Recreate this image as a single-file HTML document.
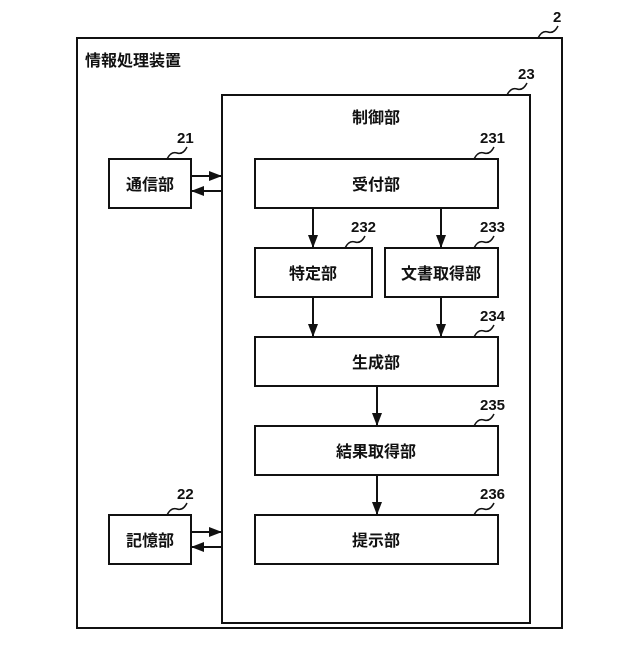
<!DOCTYPE html>
<html><head><meta charset="utf-8"><style>
body{margin:0;background:#fff}
svg text{font-family:"Liberation Sans","Noto Sans CJK JP",sans-serif;font-weight:bold;fill:#111}
</style></head><body>
<svg width="640" height="640" viewBox="0 0 640 640" xmlns="http://www.w3.org/2000/svg">
<defs><marker id="a" markerWidth="13" markerHeight="10" refX="12" refY="5" orient="auto" markerUnits="userSpaceOnUse"><path d="M0,0 L13,5 L0,10 Z" fill="#111"/></marker></defs>
<g fill="none" stroke="#111" stroke-width="2">
<rect x="77" y="38" width="485" height="590"/>
<rect x="222" y="95" width="308" height="528"/>
<rect x="109" y="159" width="82" height="49"/>
<rect x="109" y="515" width="82" height="49"/>
<rect x="255" y="159" width="243" height="49"/>
<rect x="255" y="248" width="117" height="49"/>
<rect x="385" y="248" width="113" height="49"/>
<rect x="255" y="337" width="243" height="49"/>
<rect x="255" y="426" width="243" height="49"/>
<rect x="255" y="515" width="243" height="49"/>
<g stroke-width="2" marker-end="url(#a)">
<line x1="191" y1="176" x2="221" y2="176"/>
<line x1="222" y1="191" x2="192" y2="191"/>
<line x1="191" y1="532" x2="221" y2="532"/>
<line x1="222" y1="547" x2="192" y2="547"/>
<line x1="313" y1="208" x2="313" y2="247"/>
<line x1="441" y1="208" x2="441" y2="247"/>
<line x1="313" y1="297" x2="313" y2="336"/>
<line x1="441" y1="297" x2="441" y2="336"/>
<line x1="377" y1="386" x2="377" y2="425"/>
<line x1="377" y1="475" x2="377" y2="514"/>
</g>
<g stroke-width="1.5">
<path d="M538,38 q4,-8 10,-6 t10,-6"/>
<path d="M507,95 q4,-8 10,-6 t10,-6"/>
<path d="M167,159 q4,-8 10,-6 t10,-6"/>
<path d="M167,515 q4,-8 10,-6 t10,-6"/>
<path d="M474,159 q4,-8 10,-6 t10,-6"/>
<path d="M345,248 q4,-8 10,-6 t10,-6"/>
<path d="M474,248 q4,-8 10,-6 t10,-6"/>
<path d="M474,337 q4,-8 10,-6 t10,-6"/>
<path d="M474,426 q4,-8 10,-6 t10,-6"/>
<path d="M474,515 q4,-8 10,-6 t10,-6"/>
</g>
</g>
<g font-size="16">
<text x="85" y="66">情報処理装置</text>
<text x="376" y="123" text-anchor="middle">制御部</text>
<text x="150" y="190" text-anchor="middle">通信部</text>
<text x="150" y="546" text-anchor="middle">記憶部</text>
<text x="376" y="190" text-anchor="middle">受付部</text>
<text x="313" y="279" text-anchor="middle">特定部</text>
<text x="441" y="279" text-anchor="middle">文書取得部</text>
<text x="376" y="368" text-anchor="middle">生成部</text>
<text x="376" y="457" text-anchor="middle">結果取得部</text>
<text x="376" y="546" text-anchor="middle">提示部</text>
</g>
<g font-size="15">
<text x="553" y="22">2</text>
<text x="518" y="79">23</text>
<text x="177" y="143">21</text>
<text x="177" y="499">22</text>
<text x="480" y="143">231</text>
<text x="351" y="232">232</text>
<text x="480" y="232">233</text>
<text x="480" y="321">234</text>
<text x="480" y="410">235</text>
<text x="480" y="499">236</text>
</g>
</svg>
</body></html>
